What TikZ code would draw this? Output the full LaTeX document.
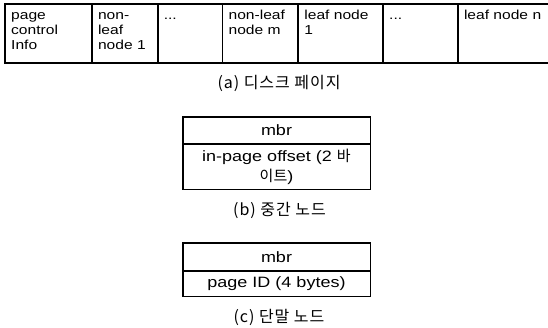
\documentclass[tikz,border=0pt]{standalone}
\usepackage{fontspec}
\setmainfont{Liberation Sans}[FakeStretch=1.2]
\newfontfamily\kr{Noto Sans CJK KR}
\newfontfamily\krcap{Noto Sans CJK KR}[LetterSpace=6]
\begin{document}
\begin{tikzpicture}[x=1pt,y=-1pt,
  cell/.style={draw, line width=0.8pt, minimum height=58pt, inner sep=0pt, anchor=north west},
  ctext/.style={anchor=north west, align=left, inner sep=0pt, font=\fontsize{13}{15}\selectfont},
  frame/.style={draw, line width=1.6pt},
  row/.style={draw, line width=0.8pt, minimum width=187pt, inner sep=0pt, align=center,
              font=\fontsize{15}{20}\selectfont},
  caption/.style={inner sep=0pt, font=\krcap\fontsize{16}{18}\selectfont}]
\useasboundingbox (0,0) rectangle (548,328);

% (a) disk page: a row of cells
\node[cell, minimum width=86pt] (c1) at (5,4) {};
\node[cell, minimum width=65pt] (c2) at (c1.north east) {};
\node[cell, minimum width=64pt] (c3) at (c2.north east) {};
\node[cell, minimum width=75pt] (c4) at (c3.north east) {};
\node[cell, minimum width=84pt] (c5) at (c4.north east) {};
\node[cell, minimum width=74pt] (c6) at (c5.north east) {};
\node[cell, minimum width=92pt] (c7) at (c6.north east) {};
\draw[frame] (c1.north west) rectangle (c7.south east);

\node[ctext] (t1) at ([shift={(6,4.5)}]c1.north west) {\strut page\\control\\Info};
\node[ctext] (t2) at ([shift={(6,4.5)}]c2.north west) {\strut non-\\leaf\\node 1};
\node[ctext] (t3) at ([shift={(6,4.5)}]c3.north west) {\strut ...};
\node[ctext] (t4) at ([shift={(6,4.5)}]c4.north west) {\strut non-leaf\\node m};
\node[ctext] (t5) at ([shift={(6,4.5)}]c5.north west) {\strut leaf node\\1};
\node[ctext] (t6) at ([shift={(6,4.5)}]c6.north west) {\strut ...};
\node[ctext] (t7) at ([shift={(6,4.5)}]c7.north west) {\strut leaf node n};

\node[caption] (capa) at (279,83) {(a) 디스크 페이지};

% (b) non-leaf node entry
\node[row, minimum height=26pt, anchor=north] (bm) at (276.5,117) {mbr};
\node[row, minimum height=45pt, anchor=north] (bo) at (bm.south) {in-page offset (2 {\kr 바}\\{\kr 이트})};
\draw[frame] (bm.north west) rectangle (bo.south east);
\node[caption] (capb) at (279.5,210) {(b) 중간 노드};

% (c) leaf node entry
\node[row, minimum height=27pt, anchor=north] (cm) at (276.5,243) {mbr};
\node[row, minimum height=25pt, anchor=north] (cp) at (cm.south) {page ID (4 bytes)};
\draw[frame] (cm.north west) rectangle (cp.south east);
\node[caption] (capc) at (279,317) {(c) 단말 노드};
\end{tikzpicture}
\end{document}
